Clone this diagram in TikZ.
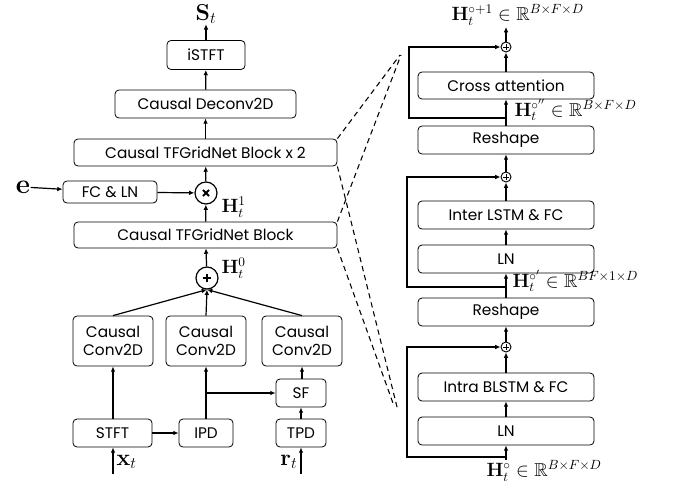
\documentclass[tikz,border=0pt]{standalone}
\usepackage{amsmath,amssymb}
\usepackage[no-math]{fontspec}
\setmainfont{Poppins}
\usetikzlibrary{arrows.meta}

\begin{document}
\begin{tikzpicture}[x=0.75pt, y=-0.75pt, line width=0.9pt,
  blk/.style={draw, line width=0.6pt, rounded corners=3pt, inner sep=1pt, align=center, font=\fontsize{11.5}{13}\selectfont},
  opbig/.style={draw, circle, line width=0.9pt, minimum size=16.5pt, inner sep=0pt},
  opsmall/.style={draw, circle, line width=0.7pt, minimum size=7.5pt, inner sep=0pt,
    path picture={\draw[line width=0.5pt] ([xshift=-2.2pt]path picture bounding box.center) -- ([xshift=2.2pt]path picture bounding box.center);
      \draw[line width=0.5pt] ([yshift=-2.2pt]path picture bounding box.center) -- ([yshift=2.2pt]path picture bounding box.center);}},
  arr/.style={-{Latex[length=4pt,width=3.5pt]}},
  zoomline/.style={line width=0.8pt, dash pattern=on 4pt off 3pt},
  mlabel/.style={inner sep=0pt, font=\fontsize{18}{20}\selectfont},
  hlabel/.style={inner sep=0pt, anchor=west, font=\fontsize{14}{16}\selectfont}]
\useasboundingbox (0,0) rectangle (691,492);

% left column
\node[mlabel] (st) at (206,14) {$\mathbf{S}_t$};
\node[blk, minimum width=58.5pt, minimum height=21.75pt] (istft) at (206,55) {iSTFT};
\node[blk, minimum width=135.75pt, minimum height=21pt] (deconv) at (205.5,104) {Causal Deconv2D};
\node[blk, minimum width=197.25pt, minimum height=20.25pt] (blocktwo) at (205.5,152.5) {Causal TFGridNet Block x 2};
\node[opbig, path picture={\draw[line width=1.4pt] ([shift={(-2.3pt,-2.3pt)}]path picture bounding box.center) -- ([shift={(2.3pt,2.3pt)}]path picture bounding box.center);
  \draw[line width=1.4pt] ([shift={(-2.3pt,2.3pt)}]path picture bounding box.center) -- ([shift={(2.3pt,-2.3pt)}]path picture bounding box.center);}] (mul) at (206,193) {};
\node[blk, minimum width=70.5pt, minimum height=16.5pt] (fcln) at (110,192) {FC \& LN};
\node[mlabel, font=\fontsize{20}{22}\selectfont] (e) at (23,187) {$\mathbf{e}$};
\node[hlabel] (hone) at (221,207) {$\mathbf{H}_t^1$};
\node[blk, minimum width=197.25pt, minimum height=19.5pt] (block) at (205.5,235) {Causal TFGridNet Block};
\node[opbig, path picture={\draw[line width=1.4pt] ([xshift=-3.3pt]path picture bounding box.center) -- ([xshift=3.3pt]path picture bounding box.center);
  \draw[line width=1.4pt] ([yshift=-3.3pt]path picture bounding box.center) -- ([yshift=3.3pt]path picture bounding box.center);}] (add) at (207,278) {};
\node[hlabel] (hzero) at (221,268) {$\mathbf{H}_t^0$};

\node[blk, minimum width=60pt, minimum height=37.5pt] (convx) at (113,341) {Causal\\Conv2D};
\node[blk, minimum width=60pt, minimum height=37.5pt] (convi) at (206,341) {Causal\\Conv2D};
\node[blk, minimum width=60pt, minimum height=37.5pt] (convr) at (302,341) {Causal\\Conv2D};
\node[blk, minimum width=37.5pt, minimum height=21pt] (sf) at (301,393) {SF};
\node[blk, minimum width=59.25pt, minimum height=21pt] (stft) at (112.5,433) {STFT};
\node[blk, minimum width=40.5pt, minimum height=21pt] (ipd) at (206,433) {IPD};
\node[blk, minimum width=37.5pt, minimum height=21pt] (tpd) at (301,433) {TPD};
\coordinate (xin) at (113,474);
\coordinate (rin) at (301,474);
\coordinate (ipdsplit) at (206,393);
\node[mlabel, anchor=west] (xt) at (116,462) {$\mathbf{x}_t$};
\node[mlabel, anchor=east] (rt) at (298,462) {$\mathbf{r}_t$};

\draw[arr] (istft) -- (st);
\draw[arr] (deconv) -- (istft);
\draw[arr] (blocktwo) -- (deconv);
\draw[arr] (mul) -- (blocktwo);
\draw[arr] (e) -- (fcln);
\draw[arr] (fcln) -- (mul);
\draw[arr] (block) -- (mul);
\draw[arr] (add) -- (block);
\draw[arr] (convx.north) -- (add.south);
\draw[arr] (convi.north) -- (add.south);
\draw[arr] (convr.north) -- (add.south);
\draw[arr] (stft.north -| convx) -- (convx.south);
\draw[arr] (stft) -- (ipd);
\draw[arr] (ipd) -- (convi);
\draw[arr] (ipdsplit) -- (sf.west);
\draw[arr] (tpd) -- (sf);
\draw[arr] (sf.north -| convr) -- (convr.south);
\draw[arr] (xin) -- (xin |- stft.south);
\draw[arr] (rin) -- (tpd.south);

% right column
\node[blk, minimum width=132pt, minimum height=20.25pt] (cross) at (506,85.5) {Cross attention};
\node[blk, minimum width=132pt, minimum height=21pt] (reshapetop) at (506,140) {Reshape};
\node[blk, minimum width=132pt, minimum height=21pt] (inter) at (506,215) {Inter LSTM \& FC};
\node[blk, minimum width=132pt, minimum height=21pt] (lntop) at (506,259) {LN};
\node[blk, minimum width=132pt, minimum height=21pt] (reshapebot) at (506,312) {Reshape};
\node[blk, minimum width=132pt, minimum height=21pt] (intra) at (506,387) {Intra BLSTM \& FC};
\node[blk, minimum width=132pt, minimum height=21pt] (lnbot) at (506,431) {LN};
\node[opsmall] (sumtop) at (506,47) {};
\node[opsmall] (summid) at (506,177) {};
\node[opsmall] (sumbot) at (506,347) {};
\coordinate (hin) at (506,460);
\coordinate (hout) at (506,27);
\coordinate (skipbot) at (506,457);
\coordinate (skipmid) at (506,287);
\coordinate (skiptop) at (506,118);
\node[hlabel] (hlast) at (451,15) {$\mathbf{H}_t^{\circ+1} \in \mathbb{R}^{B\times F\times D}$};
\node[hlabel] (hsecond) at (514,110) {$\mathbf{H}_t^{\circ''} \in \mathbb{R}^{B\times F\times D}$};
\node[hlabel] (hfirst) at (512,281) {$\mathbf{H}_t^{\circ'} \in \mathbb{R}^{BF\times 1\times D}$};
\node[hlabel] (hstart) at (486,471) {$\mathbf{H}_t^{\circ} \in \mathbb{R}^{B\times F\times D}$};

\draw[arr] (hin) -- (lnbot);
\draw[arr] (lnbot) -- (intra);
\draw[arr] (intra) -- (sumbot);
\draw[arr] (sumbot) -- (reshapebot);
\draw[arr] (reshapebot) -- (lntop);
\draw[arr] (lntop) -- (inter);
\draw[arr] (inter) -- (summid);
\draw[arr] (summid) -- (reshapetop);
\draw[arr] (reshapetop) -- (cross);
\draw[arr] (cross) -- (sumtop);
\draw[arr] (sumtop) -- (hout);
\draw[arr] (skipbot) -- (407,457) |- (sumbot.west);
\draw[arr] (skipmid) -- (407,287) |- (summid.west);
\draw[arr] (skiptop) -- (409,118) |- (sumtop.west);

% zoom lines
\draw[zoomline] (blocktwo.north east) -- (400,55);
\draw[zoomline] (block.north east) -- (401,55);
\draw[zoomline] (blocktwo.south east) -- (398,411);
\draw[zoomline] (block.south east) -- (394,406);
\end{tikzpicture}
\end{document}
